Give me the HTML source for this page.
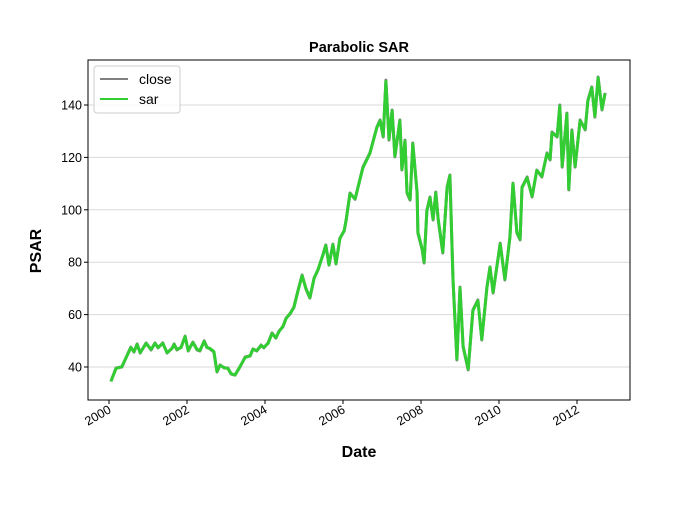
<!DOCTYPE html>
<html><head><meta charset="utf-8"><style>
body{margin:0;background:#fff;font-family:"Liberation Sans","DejaVu Sans",sans-serif}
svg text{font-family:"Liberation Sans","DejaVu Sans",sans-serif}
</style></head><body>
<svg id="chart" width="700" height="500" xmlns="http://www.w3.org/2000/svg">
<rect width="700" height="500" fill="#fff"/>
<g id="grid"></g>
<g id="series"></g>
<rect x="88" y="60" width="542" height="340" fill="none" stroke="#000" stroke-width="1"/>
<g id="axes"></g>
<text x="359" y="52" text-anchor="middle" font-size="14.5" font-weight="bold">Parabolic SAR</text>
<text x="359" y="457" text-anchor="middle" font-size="16" font-weight="bold">Date</text>
<text transform="translate(41,251) rotate(-90)" text-anchor="middle" font-size="16" font-weight="bold">PSAR</text>
<g>
<rect x="94" y="66" width="86" height="47" rx="3" fill="#fff" fill-opacity="0.8" stroke="#ccc"/>
<line x1="100" y1="79" x2="128" y2="79" stroke="#808080" stroke-width="2"/>
<text x="139" y="84" font-size="14">close</text>
<line x1="100" y1="99" x2="128" y2="99" stroke="#32cd32" stroke-width="2"/>
<text x="139" y="104" font-size="14">sar</text>
</g>
</svg>
<script>
const years=[2000.05,2000.18,2000.33,2000.56,2000.64,2000.72,2000.8,2000.95,2001.08,2001.18,2001.26,2001.38,2001.49,2001.62,2001.67,2001.74,2001.85,2001.95,2002.03,2002.15,2002.26,2002.33,2002.44,2002.51,2002.59,2002.69,2002.77,2002.85,2002.95,2003.05,2003.13,2003.23,2003.36,2003.49,2003.62,2003.69,2003.79,2003.9,2003.97,2004.08,2004.18,2004.28,2004.36,2004.46,2004.54,2004.64,2004.74,2004.85,2004.95,2005.05,2005.15,2005.26,2005.36,2005.49,2005.56,2005.64,2005.74,2005.82,2005.92,2006.03,2006.08,2006.18,2006.31,2006.51,2006.69,2006.87,2006.95,2007.03,2007.10,2007.18,2007.26,2007.33,2007.46,2007.51,2007.59,2007.64,2007.72,2007.79,2007.90,2007.92,2008.03,2008.08,2008.15,2008.23,2008.31,2008.38,2008.44,2008.56,2008.67,2008.74,2008.82,2008.92,2009.00,2009.08,2009.21,2009.33,2009.46,2009.56,2009.69,2009.77,2009.85,2010.03,2010.15,2010.28,2010.36,2010.46,2010.54,2010.59,2010.72,2010.85,2010.97,2011.10,2011.23,2011.31,2011.36,2011.49,2011.56,2011.62,2011.74,2011.79,2011.87,2011.95,2012.08,2012.21,2012.28,2012.38,2012.46,2012.54,2012.64,2012.72];
const closeVals=[34.5,39.6,40,47.6,45.7,48.8,45.3,49.2,46.5,49.2,47.3,49.2,45.3,47.3,48.8,46.5,47.6,51.8,46.1,49.5,46.5,46.1,50,47.6,46.9,45.7,38.1,40.8,39.6,39.6,37.3,36.9,40,43.8,44.2,46.9,46.1,48.4,47.3,49.2,53,51,53.7,55.3,58.7,60.2,62.9,69.4,75.1,69.8,66.3,74,77,83.1,86.6,78.9,86.9,79.3,89.2,91.9,96.1,106.4,104,116.3,121.7,131.6,134.3,127.8,149.5,126.6,138.1,120.2,134.3,115.2,126.6,106.4,103.7,125.5,106.4,91.1,84.7,79.7,99.9,104.9,96.1,106.8,96.1,83.5,108.7,113.3,73.2,42.7,70.5,47.6,38.9,61.8,65.6,50.3,70.5,78.2,68.2,87.3,73.2,89.6,110.2,91.1,88.5,108.7,112.5,104.9,115.2,112.5,121.7,119,129.7,127.8,140,116.3,136.9,107.6,130.5,116.3,134.3,130.5,141.9,146.9,135.4,150.7,138.1,144.6];
const sarVals=[34.5,39.4,40.2,47.4,45.9,48.6,45.5,49,46.7,49,47.5,49,45.5,47.1,48.6,46.7,47.4,51.6,46.3,49.3,46.7,46.3,49.8,47.4,47.1,45.9,38.3,40.6,39.8,39.4,37.5,36.9,40.2,43.6,44.4,46.7,46.3,48.2,47.5,49,52.8,51.2,53.5,55.5,58.5,60.4,62.7,69.2,74.9,70,66.5,73.8,77.2,82.9,86.4,79.1,86.7,79.5,89,92.1,95.9,106.2,104.2,116,121.5,131.4,134,128,149,127,137.8,120.5,134,115.5,126.3,106.7,104,125.2,106.7,91.4,85,80,99.6,104.6,96.4,106.5,96.4,83.8,108.4,113,73.5,43,70.2,48,39.2,61.5,65.3,50.6,70.2,78,68.5,87,73.5,89.3,110,91.4,88.8,108.4,112.2,105.2,115,112.8,121.4,119.3,129.4,128,139.6,116.6,136.6,107.9,130.2,116.6,134,130.8,141.6,146.6,135.7,150.4,138.4,144.4];
const xTicks=[2000,2002,2004,2006,2008,2010,2012];
const yTicks=[40,60,80,100,120,140];
const NS='http://www.w3.org/2000/svg';
const L=88,R=630,T=60,B=400;
function xs(v){return 109+(v-2000)*39;}
function ys(v){return 367-(v-40)*2.62;}
const grid=document.getElementById('grid'),axes=document.getElementById('axes'),ser=document.getElementById('series');
yTicks.forEach(t=>{
 const g=document.createElementNS(NS,'line');
 
 
 g.setAttribute('x1',L);g.setAttribute('x2',R);g.setAttribute('y1',ys(t));g.setAttribute('y2',ys(t));
 g.setAttribute('stroke','#d9d9d9');g.setAttribute('stroke-width','1');grid.appendChild(g);
 const tk=document.createElementNS(NS,'line');
 
 
 tk.setAttribute('x1',L-4);tk.setAttribute('x2',L);tk.setAttribute('y1',ys(t));tk.setAttribute('y2',ys(t));
 tk.setAttribute('stroke','#000');axes.appendChild(tk);
 const tx=document.createElementNS(NS,'text');
 
 
 tx.setAttribute('x',L-6);tx.setAttribute('y',ys(t)+4.5);tx.setAttribute('text-anchor','end');tx.setAttribute('font-size','12.5');
 tx.textContent=t;axes.appendChild(tx);
});
xTicks.forEach(t=>{
 const x=xs(t);
 const tk=document.createElementNS(NS,'line');
 
 
 tk.setAttribute('x1',x);tk.setAttribute('x2',x);tk.setAttribute('y1',B);tk.setAttribute('y2',B+4);
 tk.setAttribute('stroke','#000');axes.appendChild(tk);
 const tx=document.createElementNS(NS,'text');
 
 
 tx.setAttribute('transform','translate('+(x+3)+','+(B+12)+') rotate(-30)');
 tx.setAttribute('text-anchor','end');tx.setAttribute('font-size','12.5');
 tx.textContent=t;axes.appendChild(tx);
});
function line(vals,color,w,name){
 const p=document.createElementNS(NS,'polyline');
 p.setAttribute('points',vals.map((v,i)=>xs(years[i]).toFixed(1)+','+ys(v).toFixed(1)).join(' '));
 p.setAttribute('fill','none');p.setAttribute('stroke',color);p.setAttribute('stroke-width',w);p.setAttribute('stroke-linejoin','round');
 
 
 ser.appendChild(p);
}
line(closeVals,'#808080',3,'close-line');
line(sarVals,'#32cd32',3,'sar-line');
</script>
</body></html>
